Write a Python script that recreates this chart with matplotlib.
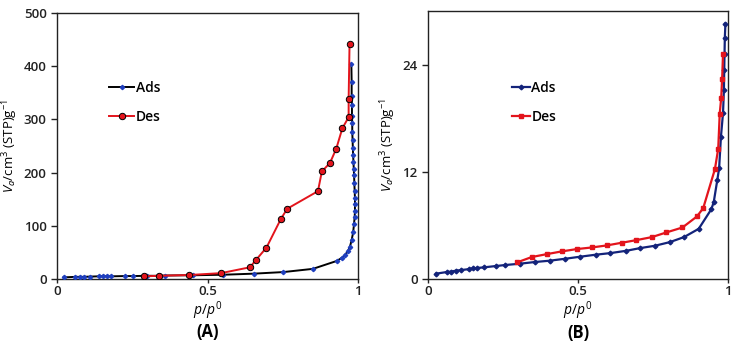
import numpy as np
import matplotlib
matplotlib.use("Agg")
import matplotlib.pyplot as plt

plt.rcParams['font.family'] = ['Open Sans', 'DejaVu Sans']
plt.rcParams['mathtext.fontset'] = 'custom'
plt.rcParams['mathtext.rm'] = 'Open Sans'
plt.rcParams['mathtext.it'] = 'Open Sans:italic'

# panel A: adsorption branch
ads_a_x = [0.022, 0.061, 0.075, 0.088, 0.11, 0.138, 0.152, 0.166, 0.18, 0.226,
           0.254, 0.30, 0.34, 0.359, 0.44, 0.453, 0.553, 0.653, 0.752, 0.85,
           0.93, 0.947, 0.957, 0.966, 0.973, 0.979, 0.984, 0.987, 0.989, 0.99,
           0.99, 0.99, 0.989, 0.988, 0.987, 0.986, 0.985, 0.984, 0.983, 0.982,
           0.981, 0.981, 0.98, 0.98, 0.979, 0.979, 0.978]
ads_a_y = [3, 4, 4, 4, 4.5, 5, 5, 5, 5, 5.5,
           5.5, 6, 6, 6.5, 7, 7, 8, 10, 13, 19,
           34, 40, 45, 52, 60, 73, 88, 104, 117, 128,
           140, 152, 165, 180, 195, 207, 220, 232, 246, 262,
           277, 293, 307, 326, 344, 370, 404]

# panel A: desorption branch
des_a_x = [0.29, 0.339, 0.44, 0.545, 0.641, 0.66, 0.696, 0.744, 0.765, 0.867,
           0.88, 0.907, 0.928, 0.948, 0.969, 0.969, 0.972]
des_a_y = [5, 6, 7.5, 11, 22, 35, 59, 113, 132, 165,
           202, 218, 245, 283, 304, 339, 442]

# panel B: adsorption branch
ads_b_x = [0.028, 0.063, 0.076, 0.093, 0.11, 0.136, 0.15, 0.163, 0.186, 0.226,
           0.256, 0.306, 0.356, 0.406, 0.458, 0.506, 0.559, 0.608, 0.661, 0.707,
           0.756, 0.806, 0.853, 0.902, 0.944, 0.952, 0.964, 0.97, 0.976, 0.983,
           0.986, 0.987, 0.988, 0.989, 0.991]
ads_b_y = [0.6, 0.78, 0.82, 0.93, 1.0, 1.1, 1.19, 1.23, 1.3, 1.45,
           1.56, 1.71, 1.9, 2.05, 2.27, 2.49, 2.72, 2.9, 3.16, 3.46,
           3.72, 4.13, 4.69, 5.62, 7.81, 8.6, 11.1, 12.4, 15.9, 18.6,
           21.2, 23.4, 25.2, 27.0, 28.6]

# panel B: desorption branch
des_b_x = [0.297, 0.346, 0.397, 0.446, 0.496, 0.546, 0.596, 0.646, 0.694, 0.746,
           0.794, 0.848, 0.896, 0.917, 0.956, 0.967, 0.972, 0.977, 0.98, 0.983]
des_b_y = [1.86, 2.46, 2.79, 3.09, 3.35, 3.53, 3.76, 4.06, 4.35, 4.69,
           5.21, 5.77, 7.0, 7.93, 12.3, 14.6, 18.5, 20.3, 22.4, 25.2]

ylabel = r'$V_a$/cm$^3$ (STP)g$^{-1}$'
xlabel = r'$p/p^0$'

fig = plt.figure(figsize=(7.34, 3.47), dpi=100)
ax1 = fig.add_axes([0.0777, 0.196, 0.41, 0.767])
ax2 = fig.add_axes([0.583, 0.196, 0.409, 0.772])

ax1.plot(ads_a_x, ads_a_y, color='black', lw=1.4, marker='D', ms=2.2,
         mfc='#1f3fbf', mec='#1f3fbf', label='Ads', zorder=3)
ax1.plot(des_a_x, des_a_y, color='#e3141c', lw=1.4, marker='o', ms=4.6,
         mfc='#e3141c', mec='black', mew=0.7, label='Des', zorder=4)
ax1.set_xlim(0, 1)
ax1.set_ylim(0, 500)
ax1.set_xticks([0, 0.5, 1])
ax1.set_xticklabels(['0', '0.5', '1'])
ax1.set_yticks([0, 100, 200, 300, 400, 500])

ax2.plot(ads_b_x, ads_b_y, color='#13237a', lw=1.6, marker='D', ms=2.4,
         mfc='#13237a', mec='#13237a', label='Ads', zorder=3)
ax2.plot(des_b_x, des_b_y, color='#e3141c', lw=1.6, marker='s', ms=3.5,
         mfc='#e3141c', mec='#e3141c', label='Des', zorder=4)
ax2.set_xlim(0, 1)
ax2.set_ylim(0, 30)
ax2.set_xticks([0, 0.5, 1])
ax2.set_xticklabels(['0', '0.5', '1'])
ax2.set_yticks([0, 12, 24])

panels = [(ax1, '(A)', (0.15, 0.77), 1.8), (ax2, '(B)', (0.257, 0.765), 1.3)]
for ax, tag, anchor, hlen in panels:
    for s in ax.spines.values():
        s.set_linewidth(1.0)
        s.set_color('#222222')
    ax.tick_params(direction='out', length=4, width=1, labelsize=9.5,
                   colors='#222222')
    ax.tick_params(axis='x', length=3, pad=1.5)
    for lab in ax.get_xticklabels() + ax.get_yticklabels():
        lab.set_fontweight('semibold')
    ax.set_ylabel(ylabel, fontsize=9.5, labelpad=3)
    ax.set_xlabel(xlabel, fontsize=10)
    ax.xaxis.set_label_coords(0.5, -0.078)
    ax.text(0.5, -0.2, tag, transform=ax.transAxes, ha='center', va='center',
            fontsize=12, fontweight='bold')
    leg = ax.legend(loc='upper left', bbox_to_anchor=anchor, frameon=False,
                    borderpad=0, handlelength=hlen, handletextpad=0.1,
                    labelspacing=1.1, fontsize=10)
    for t in leg.get_texts():
        t.set_fontweight('semibold')

fig.savefig('out.png', dpi=100)
